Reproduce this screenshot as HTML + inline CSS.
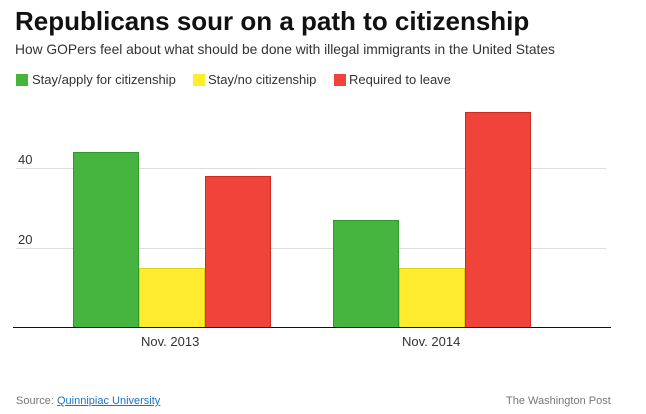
<!DOCTYPE html>
<html><head><meta charset="utf-8"><style>
body{margin:0;width:646px;height:414px;background:#fff;position:relative;font-family:"Liberation Sans",Arial,sans-serif;overflow:hidden}
div{position:absolute}
.t{left:15px;top:6px;font-size:26px;font-weight:bold;color:#111;white-space:nowrap}
.s{left:15px;top:42px;font-size:13.8px;color:#333;white-space:nowrap}
.lg{top:72px;font-size:13px;color:#333;white-space:nowrap}
.sq{width:12px;height:12px;top:74px}
.g{left:16px;width:590px;height:1px;background:#ddd}
.b{border:1px solid rgba(0,0,0,0.12);box-sizing:border-box}
.gr{background:#46b540;border-color:#2f9a2a}.ye{background:#ffec2e;border-color:#e4cf10}.re{background:#f0433a;border-color:#d12a22}
.y{left:18px;font-size:13px;color:#333}
.x{top:334px;font-size:13px;color:#333}
</style></head><body>
<div class="t">Republicans sour on a path to citizenship</div>
<div class="s">How GOPers feel about what should be done with illegal immigrants in the United States</div>
<div class="sq" style="left:16px;background:#46b540"></div><div class="lg" style="left:32px">Stay/apply for citizenship</div>
<div class="sq" style="left:193px;background:#ffec2e"></div><div class="lg" style="left:208px">Stay/no citizenship</div>
<div class="sq" style="left:334px;background:#f0433a"></div><div class="lg" style="left:349px">Required to leave</div>
<div class="g" style="top:168px"></div><div class="g" style="top:248px"></div>
<div class="y" style="top:152px">40</div><div class="y" style="top:232px">20</div>
<div class="b gr" style="left:73px;top:152px;width:66px;height:176px"></div>
<div class="b ye" style="left:139px;top:268px;width:66px;height:60px"></div>
<div class="b re" style="left:205px;top:176px;width:66px;height:152px"></div>
<div class="b gr" style="left:333px;top:220px;width:66px;height:108px"></div>
<div class="b ye" style="left:399px;top:268px;width:66px;height:60px"></div>
<div class="b re" style="left:465px;top:112px;width:66px;height:216px"></div>
<div style="left:13px;top:327px;width:598px;height:1px;background:#111"></div>
<div class="x" style="left:141px">Nov. 2013</div>
<div class="x" style="left:402px">Nov. 2014</div>
<div style="left:16px;top:395px;font-size:11px;color:#777">Source: <span style="color:#1a73c8;text-decoration:underline">Quinnipiac University</span></div>
<div style="left:506px;top:395px;font-size:11px;color:#777">The Washington Post</div>
</body></html>
